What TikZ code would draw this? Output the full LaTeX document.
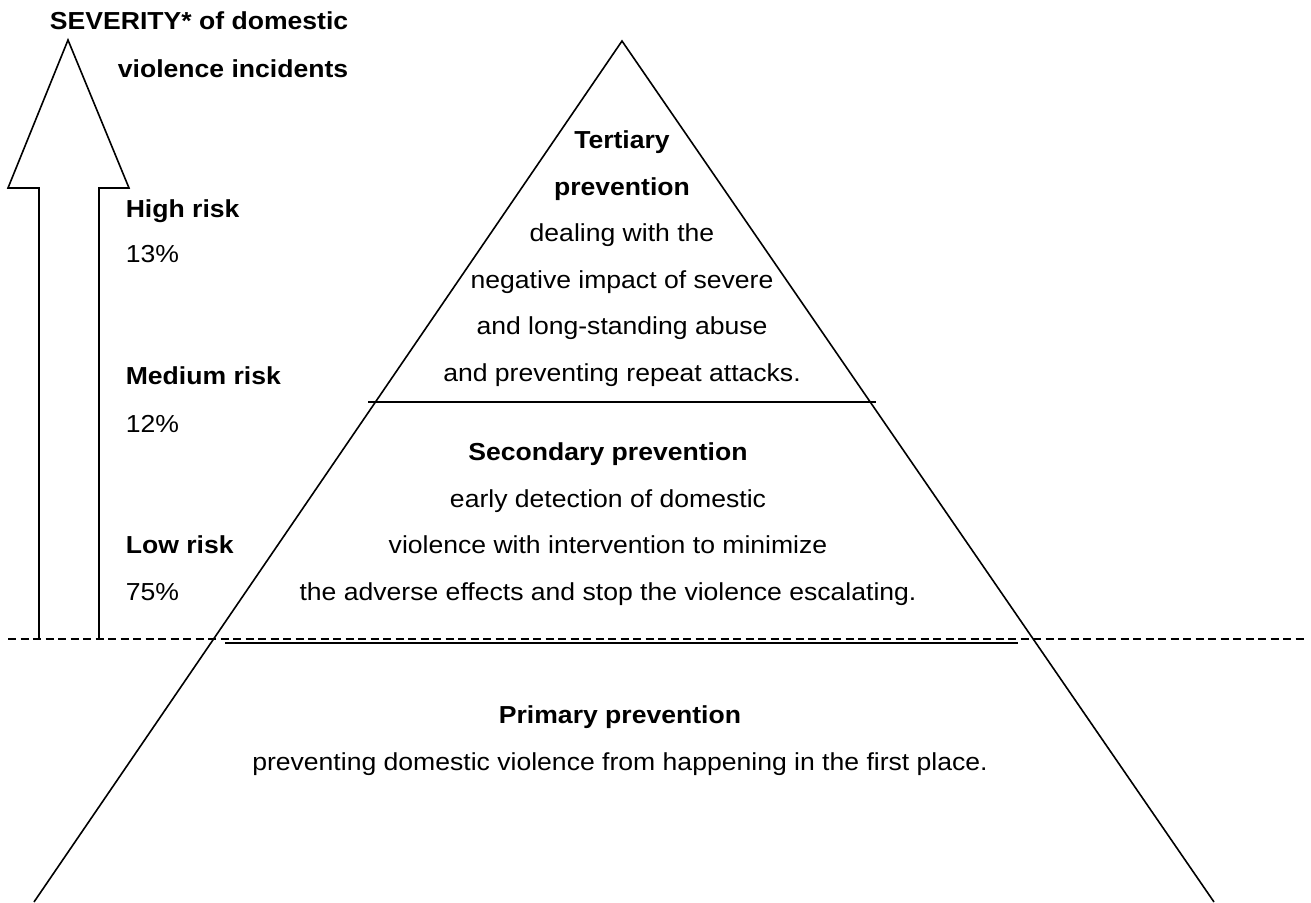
\documentclass[tikz,border=0pt]{standalone}
\usepackage{fontspec}
\setmainfont{Liberation Sans}[FakeStretch=1.08]
\usetikzlibrary{positioning}

\begin{document}
\begin{tikzpicture}[
    x=0.5pt, y=-0.5pt,
    line width=0.8pt,
    txt/.style={inner sep=0pt, font=\fontsize{12.3}{23.25}\selectfont},
    risk/.style={txt, anchor=base west},
    level/.style={txt, anchor=north, align=center},
    cutline/.style={dash pattern=on 4pt off 2.25pt}
]
  \useasboundingbox (0,0) rectangle (1311,903);

  % pyramid
  \coordinate (apex) at (622,41);
  \coordinate (baseL) at (34,902);
  \coordinate (baseR) at (1214,902);
  \draw (baseL) -- (apex) -- (baseR);

  \coordinate (tertL) at (368,402);
  \coordinate (tertR) at (876,402);
  \draw (tertL) -- (tertR);
  \coordinate (secL) at (225,643);
  \coordinate (secR) at (1018,643);
  \draw (secL) -- (secR);
  \coordinate (cutL) at (8,639);
  \coordinate (cutR) at (1304,639);
  \draw[cutline] (cutL) -- (cutR);

  % severity arrow
  \draw (39,639) -- (39,188) -- (8,188) -- (68,40) -- (129,188) -- (99,188) -- (99,639);

  \node[txt, anchor=north east, align=right, font=\fontsize{12.3}{24}\selectfont\bfseries] (severity) at (349,11)
    {SEVERITY* of domestic\\violence incidents};

  \node[risk] (high) at (125,218) {\textbf{High risk}};
  \node[risk] (highpct) at (125,263) {13\%};
  \node[risk] (medium) at (125,385) {\textbf{Medium risk}};
  \node[risk] (mediumpct) at (125,432) {12\%};
  \node[risk] (low) at (125,553) {\textbf{Low risk}};
  \node[risk] (lowpct) at (125,600) {75\%};

  \node[level] (tertiary) at (622,130)
    {\textbf{Tertiary}\\\textbf{prevention}\\dealing with the\\negative impact of severe\\and long-standing abuse\\and preventing repeat attacks.};
  \node[level] (secondary) at (608,442)
    {\textbf{Secondary prevention}\\early detection of domestic\\violence with intervention to minimize\\the adverse effects and stop the violence escalating.};
  \node[level] (primary) at (620,705)
    {\textbf{Primary prevention}\\preventing domestic violence from happening in the first place.};
\end{tikzpicture}
\end{document}
